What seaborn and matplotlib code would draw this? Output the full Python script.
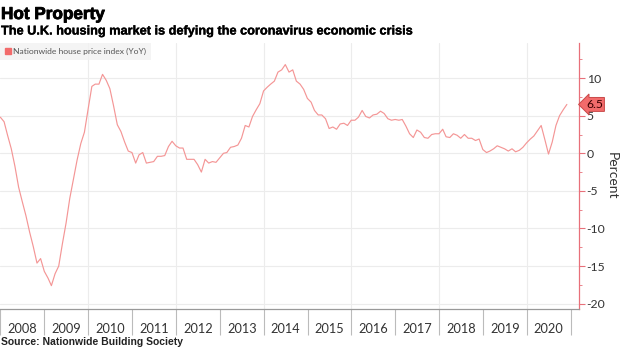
import numpy as np
import pandas as pd
import matplotlib
matplotlib.use("Agg")
import matplotlib.pyplot as plt
import matplotlib.dates as mdates
import matplotlib.patheffects as pe
from matplotlib.lines import Line2D
import seaborn as sns

# ---------------- data (Nationwide house price index, YoY %, month-end) -------------
start_month = "2007-12"
yoy_values = [
    4.8,                                                            # Dec 2007
    4.2, 2.4, 0.6, -1.7, -4.5, -6.4, -8.3, -10.5, -12.4, -14.6, -14.0, -15.7,   # 2008
    -16.6, -17.6, -16.0, -15.0, -12.0, -9.3, -6.0, -3.4, -0.9, 1.3, 2.8, 5.9,   # 2009
    8.9, 9.2, 9.2, 10.5, 9.7, 8.6, 6.3, 3.8, 2.9, 1.5, 0.3, 0.1,              # 2010
    -1.3, -0.2, 0.1, -1.3, -1.2, -1.1, -0.4, -0.4, -0.3, 0.9, 1.6, 1.0,       # 2011
    0.7, 0.7, -0.8, -0.8, -0.8, -1.5, -2.5, -0.8, -1.3, -1.1, -1.2, -0.6,     # 2012
    0.0, 0.1, 0.8, 0.9, 1.1, 2.0, 3.7, 3.5, 4.9, 5.8, 6.6, 8.3,              # 2013
    8.8, 9.2, 9.6, 10.8, 11.1, 11.8, 10.8, 11.1, 9.6, 9.2, 8.5, 7.3,         # 2014
    6.8, 5.7, 5.1, 5.1, 4.6, 3.3, 3.5, 3.2, 3.9, 4.0, 3.7, 4.4,              # 2015
    4.4, 4.8, 5.7, 4.9, 4.7, 5.1, 5.2, 5.6, 5.3, 4.6, 4.4, 4.5,              # 2016
    4.4, 4.5, 3.6, 2.6, 2.1, 3.1, 2.8, 2.1, 2.0, 2.5, 2.6, 2.6,              # 2017
    3.2, 2.2, 2.1, 2.6, 2.4, 2.0, 2.5, 2.0, 2.0, 1.7, 1.9, 0.5,              # 2018
    0.1, 0.3, 0.6, 1.0, 0.8, 0.6, 0.3, 0.6, 0.2, 0.4, 0.8, 1.4,              # 2019
    1.9, 2.3, 3.0, 3.7, 1.8, -0.1, 1.5, 3.7, 5.0, 5.8, 6.5,                  # 2020
]
series_name = "Nationwide house price index (YoY)"
y_ticks = [10, 5, 0, -5, -10, -15, -20]
year_labels = [str(y) for y in range(2008, 2021)]

dates = pd.date_range(start_month, periods=len(yoy_values), freq="ME")
df = pd.DataFrame({"date": dates, "yoy": yoy_values})

# ---------------- style -------------
sns.set_theme(style="white")
BODY = ["Lato", "DejaVu Sans"]
HEAD = ["Liberation Sans", "DejaVu Sans"]
plt.rcParams["font.family"] = BODY

LINE = "#f49696"
AXRED = "#e8707a"
GRID = "#ececec"
TXT = "#333333"

W, H = 620, 348
fig = plt.figure(figsize=(W / 100, H / 100), dpi=100)
fig.patch.set_facecolor("white")
ax = fig.add_axes([0 / W, 1 - 308.5 / H, 579 / W, (308.5 - 43) / H])

sns.lineplot(data=df, x="date", y="yoy", ax=ax, color=LINE, lw=0.85, legend=False)

ax.set_xlim(pd.Timestamp("2007-12-28"), pd.Timestamp("2021-03-11"))
ax.set_ylim(-20.64, 14.67)

# y axis on right
ax.yaxis.tick_right()
ax.yaxis.set_label_position("right")
ax.set_yticks(y_ticks)
ax.set_yticklabels([f"{t:d}" for t in y_ticks], fontsize=8.8, color=TXT)
ax.yaxis.set_minor_locator(matplotlib.ticker.MultipleLocator(2.5))
ax.tick_params(axis="y", which="major", length=4, width=0.8, color=AXRED, pad=1.5, right=True, left=False)
ax.tick_params(axis="y", which="minor", length=2.5, width=0.6, color=AXRED, right=True, left=False)
ax.set_ylabel("Percent", rotation=270, fontsize=10, color=TXT, labelpad=9)

# x axis: year separators + centred labels
ax.xaxis.set_major_locator(mdates.YearLocator(1))
ax.xaxis.set_major_formatter(matplotlib.ticker.NullFormatter())
mid = [pd.Timestamp(f"{y}-07-02") for y in year_labels]
ax.set_xticks(mid, minor=True)
ax.set_xticklabels(year_labels, minor=True, fontsize=9.2, color=TXT)
ax.tick_params(axis="x", which="major", length=19, width=0.8, color="#bbbbbb", direction="out", bottom=True)
ax.tick_params(axis="x", which="minor", length=0, pad=10.5)
ax.set_xlabel("")

# grid
ax.yaxis.grid(True, which="major", color=GRID, lw=0.8)
for d in pd.date_range("2010-01-01", "2021-01-01", freq="2YS"):
    ax.axvline(d, color=GRID, lw=0.8, zorder=0)

for s in ["top", "left"]:
    ax.spines[s].set_visible(False)
ax.spines["right"].set_color(AXRED)
ax.spines["right"].set_linewidth(0.9)
ax.spines["bottom"].set_color("#999999")
ax.spines["bottom"].set_linewidth(0.9)

# legend
h = [Line2D([], [], marker="s", ls="none", color="#f26b6b", markersize=4.5)]
leg = ax.legend(h, [series_name], loc="upper left", bbox_to_anchor=(0, 1.0), frameon=True,
                fontsize=6.1, handlelength=0.6, handletextpad=0.3, borderpad=0.6,
                borderaxespad=0.0, fancybox=False)
leg.get_frame().set_facecolor("#f2f2f2")
leg.get_frame().set_edgecolor("none")
for t in leg.get_texts():
    t.set_color("#555555")

# last-value tag
last = df.iloc[-1]
ax.annotate(f"{last['yoy']:.1f}", xy=(1.0, last["yoy"]), xycoords=("axes fraction", "data"),
            xytext=(5, 0), textcoords="offset points", va="center", ha="left",
            fontsize=8.8, color="#3a0000", annotation_clip=False,
            bbox=dict(boxstyle="larrow,pad=0.12", fc="#f26b6b", ec="#c84848", lw=0.7))

# titles
t1 = fig.text(1 / W, 1 - 19 / H, "Hot Property", fontsize=12.4, fontweight="bold",
              family=HEAD, color="black", va="baseline",
              path_effects=[pe.withStroke(linewidth=0.6, foreground="black")])
t2 = fig.text(1 / W, 1 - 34.5 / H, "The U.K. housing market is defying the coronavirus economic crisis",
              fontsize=9.2, fontweight="bold", family=HEAD, color="black", va="baseline",
              path_effects=[pe.withStroke(linewidth=0.25, foreground="black")])
t3 = fig.text(1 / W, 1 - 345 / H, "Source: Nationwide Building Society", fontsize=6.8,
              fontweight="bold", family=HEAD, color="#222222", va="baseline")

renderer = fig.canvas.get_renderer()
for t, target in [(t1, 104), (t2, 411), (t3, 182)]:
    w = t.get_window_extent(renderer).width
    t.set_fontsize(t.get_fontsize() * target / w)

fig.savefig("out.png", dpi=100, facecolor="white")
